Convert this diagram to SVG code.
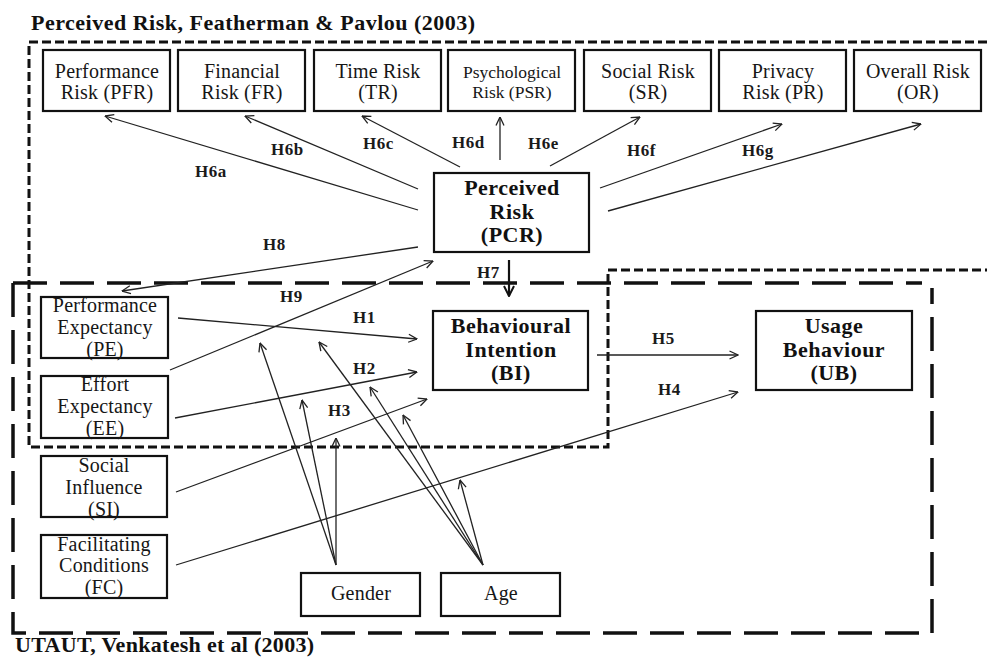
<svg xmlns="http://www.w3.org/2000/svg" width="987" height="657" viewBox="0 0 987 657">
<defs>
<marker id="arr" markerUnits="userSpaceOnUse" markerWidth="10" markerHeight="10" viewBox="0 0 10 10" refX="9.5" refY="5" orient="auto">
<path d="M1,1 L9.5,5 L1,9" fill="none" stroke="#222" stroke-width="1.3"/>
</marker>
<marker id="arrB" markerUnits="userSpaceOnUse" markerWidth="12" markerHeight="12" viewBox="0 0 12 12" refX="11" refY="6" orient="auto">
<path d="M1,1 L11,6 L1,11" fill="none" stroke="#111" stroke-width="2"/>
</marker>
</defs>
<style>
.box{fill:#fff;stroke:#111;stroke-width:2.2}
.t{font-family:"Liberation Serif","Times New Roman",serif;font-size:20px;letter-spacing:0.2px;text-anchor:middle;fill:#161616}
.ts{font-family:"Liberation Serif","Times New Roman",serif;font-size:17.5px;text-anchor:middle;fill:#161616}
.tb{font-family:"Liberation Serif","Times New Roman",serif;font-size:22px;font-weight:bold;letter-spacing:0.5px;text-anchor:middle;fill:#111}
.lbl{font-family:"Liberation Serif","Times New Roman",serif;font-size:17px;font-weight:bold;letter-spacing:0.5px;fill:#1a1a1a}
.ttl{font-family:"Liberation Serif","Times New Roman",serif;font-size:22px;font-weight:bold;fill:#111}
.c{stroke:#222;stroke-width:1.3;fill:none;marker-end:url(#arr)}
.dshort{fill:none;stroke:#111;stroke-width:3;stroke-dasharray:9 4}
.dlong{fill:none;stroke:#111;stroke-width:3.5;stroke-dasharray:34 13}
</style>
<rect width="987" height="657" fill="#fff"/>

<g id="frames">
<path class="dshort" d="M987,42 L29,42 L29,447 L608,447 L608,270 L987,270"/>
<path class="dlong" d="M13,283 L13,633 L932,633 L932,288"/>
<path class="dlong" d="M13,283 L922,283" stroke="#4d4d4d"/>
<text class="ttl" x="31" y="30" letter-spacing="0.5">Perceived Risk, Featherman &amp; Pavlou (2003)</text>
<text class="ttl" x="15" y="652" letter-spacing="0.3">UTAUT, Venkatesh et al (2003)</text>
</g>

<g id="connectors">
<line class="c" x1="418" y1="210" x2="105" y2="116"/>
<line class="c" x1="418" y1="189" x2="245" y2="116"/>
<line class="c" x1="460" y1="167" x2="362" y2="116"/>
<line class="c" x1="500" y1="160" x2="500" y2="117"/>
<line class="c" x1="550" y1="166" x2="640" y2="117"/>
<line class="c" x1="600" y1="188" x2="782" y2="124"/>
<line class="c" x1="608" y1="211" x2="921" y2="124"/>
<line class="c" x1="418" y1="247" x2="122" y2="291"/>
<line class="c" x1="170" y1="370" x2="433" y2="261"/>
<line x1="509" y1="260" x2="509" y2="296" stroke="#111" stroke-width="2.2" marker-end="url(#arrB)"/>
<line class="c" x1="178" y1="318" x2="417" y2="339"/>
<line class="c" x1="175" y1="418" x2="417" y2="372"/>
<line class="c" x1="176" y1="492" x2="427" y2="399"/>
<line class="c" x1="176" y1="565" x2="738" y2="392"/>
<line class="c" x1="597" y1="355" x2="738" y2="355"/>
<line class="c" x1="336" y1="565" x2="260" y2="343"/>
<line class="c" x1="336" y1="565" x2="302" y2="400"/>
<line class="c" x1="336" y1="565" x2="336" y2="438"/>
<line class="c" x1="483" y1="565" x2="319" y2="342"/>
<line class="c" x1="483" y1="565" x2="370" y2="387"/>
<line class="c" x1="483" y1="565" x2="403" y2="415"/>
<line class="c" x1="483" y1="565" x2="460" y2="480"/>
<text class="lbl" x="195" y="177">H6a</text>
<text class="lbl" x="271" y="155">H6b</text>
<text class="lbl" x="363" y="149">H6c</text>
<text class="lbl" x="452" y="148">H6d</text>
<text class="lbl" x="528" y="149">H6e</text>
<text class="lbl" x="627" y="156">H6f</text>
<text class="lbl" x="742" y="156">H6g</text>
<text class="lbl" x="263" y="250">H8</text>
<text class="lbl" x="280" y="302">H9</text>
<text class="lbl" x="477" y="278">H7</text>
<text class="lbl" x="353" y="323">H1</text>
<text class="lbl" x="353" y="374">H2</text>
<text class="lbl" x="328" y="416">H3</text>
<text class="lbl" x="652" y="344">H5</text>
<text class="lbl" x="658" y="395">H4</text>
</g>

<g id="PFR"><rect class="box" x="43" y="50" width="127" height="61"/><text class="t" x="107" y="78">Performance</text><text class="t" x="107" y="99">Risk (PFR)</text></g>
<g id="FR"><rect class="box" x="178" y="50" width="127" height="61"/><text class="t" x="242" y="78">Financial</text><text class="t" x="242" y="99">Risk (FR)</text></g>
<g id="TR"><rect class="box" x="314" y="50" width="127" height="61"/><text class="t" x="378" y="78">Time Risk</text><text class="t" x="378" y="99">(TR)</text></g>
<g id="PSR"><rect class="box" x="448" y="50" width="127" height="61"/><text class="ts" x="512" y="78">Psychological</text><text class="ts" x="512" y="98">Risk (PSR)</text></g>
<g id="SR"><rect class="box" x="584" y="50" width="127" height="61"/><text class="t" x="648" y="78">Social Risk</text><text class="t" x="648" y="99">(SR)</text></g>
<g id="PR"><rect class="box" x="719" y="50" width="127" height="61"/><text class="t" x="783" y="78">Privacy</text><text class="t" x="783" y="99">Risk (PR)</text></g>
<g id="OR"><rect class="box" x="854" y="50" width="127" height="61"/><text class="t" x="918" y="78">Overall Risk</text><text class="t" x="918" y="99">(OR)</text></g>

<g id="PCR"><rect class="box" x="434" y="173" width="155" height="79"/><text class="tb" x="512" y="195">Perceived</text><text class="tb" x="512" y="219">Risk</text><text class="tb" x="512" y="242">(PCR)</text></g>
<g id="BI"><rect class="box" x="433" y="311" width="155" height="79"/><text class="tb" x="511" y="333">Behavioural</text><text class="tb" x="511" y="357">Intention</text><text class="tb" x="511" y="380">(BI)</text></g>
<g id="UB"><rect class="box" x="756" y="311" width="156" height="79"/><text class="tb" x="834" y="333">Usage</text><text class="tb" x="834" y="357">Behaviour</text><text class="tb" x="834" y="380">(UB)</text></g>

<g id="PE"><rect class="box" x="41" y="297" width="127" height="61"/><text class="t" x="105" y="312">Performance</text><text class="t" x="105" y="334">Expectancy</text><text class="t" x="105" y="356">(PE)</text></g>
<g id="EE"><rect class="box" x="41" y="376" width="127" height="62"/><text class="t" x="105" y="391">Effort</text><text class="t" x="105" y="413">Expectancy</text><text class="t" x="105" y="435">(EE)</text></g>
<g id="SI"><rect class="box" x="41" y="456" width="126" height="61"/><text class="t" x="104" y="472">Social</text><text class="t" x="104" y="494">Influence</text><text class="t" x="104" y="516">(SI)</text></g>
<g id="FC"><rect class="box" x="41" y="535" width="126" height="63"/><text class="t" x="104" y="551">Facilitating</text><text class="t" x="104" y="572">Conditions</text><text class="t" x="104" y="594">(FC)</text></g>

<g id="Gender"><rect class="box" x="301" y="573" width="119" height="43"/><text class="t" x="361" y="600" font-size="19">Gender</text></g>
<g id="Age"><rect class="box" x="441" y="573" width="119" height="43"/><text class="t" x="501" y="600" font-size="19">Age</text></g>
</svg>
